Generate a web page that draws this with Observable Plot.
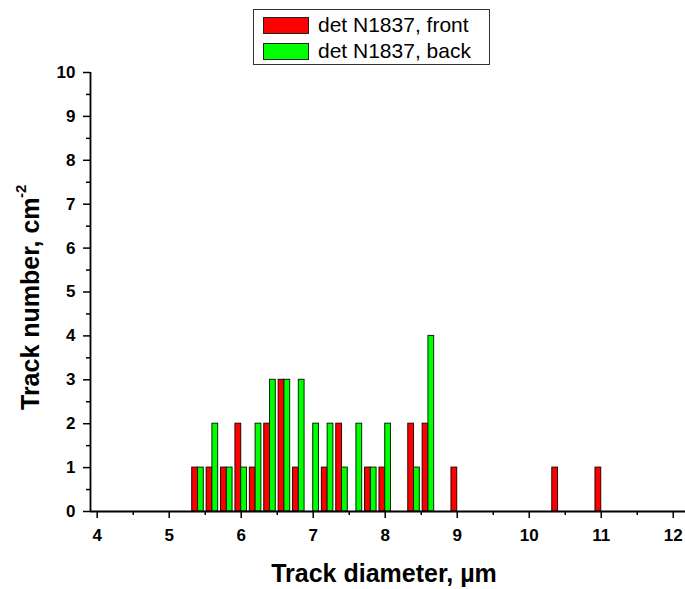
<!DOCTYPE html>
<html>
<head>
<meta charset="utf-8">
<script src="https://cdn.jsdelivr.net/npm/d3@7"></script>
<script src="https://cdn.jsdelivr.net/npm/@observablehq/plot@0.6"></script>
<style>
  html, body { margin: 0; padding: 0; background: #fff; }
  #wrap { position: relative; width: 685px; height: 589px; font-family: "Liberation Sans", Arial, sans-serif; }
  #legend { position: absolute; left: 253px; top: 9px; width: 235px; height: 54px; border: 1px solid #333; background: #fff; box-sizing: content-box; }
  .item { position: absolute; left: 9px; height: 18px; display: flex; align-items: center; }
  .sw { width: 46px; height: 17px; border: 1px solid #222; box-sizing: border-box; }
  .lab { position: absolute; left: 55px; font-size: 21px; line-height: 18px; white-space: nowrap; color: #000; }
</style>
</head>
<body>
<div id="wrap"></div>
<script>
// Bin centres (track diameter, µm) and counts per series
const diameters = [5.4, 5.6, 5.8, 6.0, 6.2, 6.4, 6.6, 6.8, 7.0, 7.2, 7.4, 7.6, 7.8, 8.0, 8.2, 8.4, 8.6, 8.8, 9.0, 10.4, 11.0];
const frontCounts = [1, 1, 1, 2, 1, 2, 3, 1, 0, 1, 2, 0, 1, 1, 0, 2, 2, 0, 1, 1, 1];
const backCounts  = [1, 2, 1, 1, 2, 3, 3, 3, 2, 2, 1, 2, 1, 2, 0, 1, 4, 0, 0, 0, 0];
const seriesNames = ["det N1837, front", "det N1837, back"];
const seriesColors = ["#ff0000", "#00ff00"];
const xTicks = [4, 5, 6, 7, 8, 9, 10, 11, 12];
const yTicks = [0, 1, 2, 3, 4, 5, 6, 7, 8, 9, 10];
const xTitle = "Track diameter, \u00b5m";
const yTitle = "Track number, cm";
const yTitleSup = "-2";

const bw = 0.08;
const xMin = 3.907, xMax = 12.17;
const rows = diameters.map((d, i) => ({d, front: frontCounts[i], back: backCounts[i]}));
const xMinor = d3.range(4.5, 12, 1);
const yMinor = d3.range(0.5, 10, 1);

const tickFont = {fontSize: 17, fontWeight: "bold", fill: "#000"};

const chart = Plot.plot({
  width: 685,
  height: 589,
  marginLeft: 90,
  marginRight: 0,
  marginTop: 72,
  marginBottom: 78,
  style: {fontFamily: "'Liberation Sans', Arial, sans-serif", background: "#fff", color: "#000"},
  x: {domain: [xMin, xMax]},
  y: {domain: [0, 10]},
  marks: [
    Plot.rect(rows.filter(r => r.front > 0), {
      x1: r => r.d - bw, x2: r => r.d, y1: 0, y2: "front",
      fill: seriesColors[0], stroke: "#2a0000", strokeWidth: 1
    }),
    Plot.rect(rows.filter(r => r.back > 0), {
      x1: r => r.d, x2: r => r.d + bw, y1: 0, y2: "back",
      fill: seriesColors[1], stroke: "#002a00", strokeWidth: 1
    }),
    Plot.axisX({ticks: xTicks, tickSize: 7, tickPadding: 10, strokeWidth: 1.5, ...tickFont, tickFormat: d => String(d)}),
    Plot.axisX({ticks: xMinor, tickSize: 4, strokeWidth: 1.5, text: null}),
    Plot.axisY({ticks: yTicks, tickSize: 7, tickPadding: 8, strokeWidth: 1.5, ...tickFont, tickFormat: d => String(d)}),
    Plot.axisY({ticks: yMinor, tickSize: 4, strokeWidth: 1.5, text: null}),
    Plot.ruleY([0], {stroke: "#000", strokeWidth: 1.8}),
    Plot.ruleX([xMin], {stroke: "#000", strokeWidth: 1.8}),
    Plot.text([xTitle], {frameAnchor: "bottom", dx: -4, dy: 70, fontSize: 25, fontWeight: "bold", fill: "#000"}),
    Plot.text([yTitle], {frameAnchor: "left", textAnchor: "start", dx: -60, dy: 118, rotate: -90, fontSize: 25, fontWeight: "bold", fill: "#000"}),
    Plot.text([yTitleSup], {frameAnchor: "left", textAnchor: "start", dx: -69, dy: -94, rotate: -90, fontSize: 15, fontWeight: "bold", fill: "#000"})
  ]
});

const wrap = document.getElementById("wrap");
wrap.appendChild(chart);

const legend = document.createElement("div");
legend.id = "legend";
seriesNames.forEach((name, i) => {
  const item = document.createElement("div");
  item.className = "item";
  item.style.top = (i === 0 ? 6 : 32) + "px";
  const sw = document.createElement("div");
  sw.className = "sw";
  sw.style.background = seriesColors[i];
  const lab = document.createElement("span");
  lab.className = "lab";
  lab.textContent = name;
  item.appendChild(sw);
  item.appendChild(lab);
  legend.appendChild(item);
});
wrap.appendChild(legend);
</script>
</body>
</html>
